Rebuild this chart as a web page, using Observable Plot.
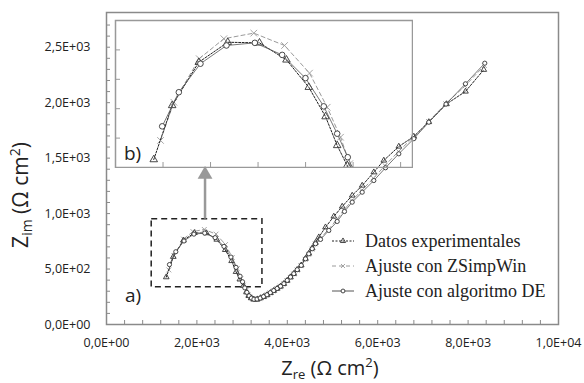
<!DOCTYPE html>
<html><head><meta charset="utf-8">
<script src="https://cdn.jsdelivr.net/npm/d3@7"></script>
<script src="https://cdn.jsdelivr.net/npm/@observablehq/plot@0.6"></script>
<style>
body{margin:0;background:#fff;}
#chart{position:relative;width:584px;height:383px;}
#inset{position:absolute;left:114px;top:19px;}
</style></head><body><div id="chart"><div id="inset"></div></div>
<script>
// ---- data ----
const xTicks = [0, 2000, 4000, 6000, 8000, 10000];
const xTickLabels = ["0,0E+00", "2,0E+03", "4,0E+03", "6,0E+03", "8,0E+03", "1,0E+04"];
const yTicks = [0, 500, 1000, 1500, 2000, 2500];
const yTickLabels = ["0,0E+00", "5,0E+02", "1,0E+03", "1,5E+03", "2,0E+03", "2,5E+03"];
const seriesNames = ["Datos experimentales", "Ajuste con ZSimpWin", "Ajuste con algoritmo DE"];

const expX = [1322,1477,1701,1945,2212,2439,2627,2768,2866,2950,3030,3097,3148,3201,3259,3334,3407,3480,3555,3628,3701,3777,3850,3923,3998,4071,4144,4219,4308,4403,4476,4551,4624,4697,4845,5029,5215,5436,5657,5914,6135,6467,6799,7131,7522,7942,8347];
const expY = [427,611,758,826,824,766,673,573,475,407,350,291,258,238,226,226,238,250,266,285,305,324,343,367,396,427,458,494,534,594,640,688,738,787,877,974,1064,1163,1253,1373,1479,1605,1695,1826,1988,2101,2297];

const zsX = [1379,1491,1705,1912,2164,2423,2633,2782,2894,2972,3030,3080,3130,3185,3245,3315,3390,3465,3540,3615,3690,3765,3840,3915,3990,4065,4140,4215,4300,4395,4470,4545,4620,4725,4900,5085,5250,5430,5650,5905,6160,6460,6790,7125,7505,7930,8360];
const zsY = [492,622,770,838,857,815,721,605,503,413,355,305,270,245,231,228,236,250,266,284,304,323,343,366,395,425,456,491,530,588,633,679,727,775,852,940,1030,1118,1210,1318,1433,1560,1690,1830,1990,2150,2335];

const deX = [1393,1533,1715,1934,2173,2403,2599,2753,2866,2955,3010,3060,3105,3155,3207,3262,3330,3400,3475,3550,3625,3700,3775,3850,3925,3998,4071,4144,4219,4308,4403,4476,4551,4624,4735,4918,5104,5265,5436,5657,5914,6173,6467,6799,7131,7511,7942,8369];
const deY = [540,656,753,815,824,783,704,608,515,435,385,330,290,258,238,228,229,238,252,268,287,306,325,345,368,398,428,458,494,533,592,637,683,728,767,848,929,1019,1103,1193,1298,1413,1539,1675,1824,1987,2170,2356];

const boxX = [1000, 3450];
const boxY = [335, 950];
const arrowX = [2180];
const arrowY = [950, 1330, 1352];

const insetXDomain = [1000, 3500];
const insetYDomain = [400, 900];

// ---- helpers ----
const rows = (xs, ys) => xs.map((x, i) => ({x, y: ys[i]}));
const exp = rows(expX, expY), zs = rows(zsX, zsY), de = rows(deX, deY);

function seriesMarks(r, clip) {
  return [
    Plot.line(zs, {x: "x", y: "y", stroke: "#9a9a9a", strokeWidth: 1, strokeDasharray: "4,3", clip}),
    Plot.dot(zs, {x: "x", y: "y", symbol: "times", r: r * 1.1, stroke: "#9a9a9a", strokeWidth: 0.9, clip}),
    Plot.line(exp, {x: "x", y: "y", stroke: "#222", strokeWidth: 1, strokeDasharray: "2,1.5", clip}),
    Plot.dot(exp, {x: "x", y: "y", symbol: "triangle", r: r, stroke: "#333", fill: "none", strokeWidth: 0.9, clip}),
    Plot.line(de, {x: "x", y: "y", stroke: "#555", strokeWidth: 0.8, clip}),
    Plot.dot(de, {x: "x", y: "y", symbol: "circle", r: r, stroke: "#333", fill: "white", strokeWidth: 0.9, clip})
  ];
}

const xMinor = d3.range(400, 10000, 400);
const yMinor = d3.range(100, 2800, 100);
const FONT = "'Open Sans', sans-serif";

const main = Plot.plot({
  width: 584, height: 383,
  marginLeft: 106, marginRight: 26, marginTop: 12, marginBottom: 59,
  x: {domain: [0, 10000], label: null},
  y: {domain: [0, 2813], label: null},
  style: {fontFamily: FONT, fontSize: "12.5px", color: "#222", background: "transparent"},
  marks: [
    Plot.axisX(xMinor, {tickSize: -4, tickFormat: () => "", stroke: "#8a8a8a", label: null}),
    Plot.axisY(yMinor, {tickSize: -4, tickFormat: () => "", stroke: "#8a8a8a", label: null}),
    Plot.text(xTicks, {x: d => d, y: 0, text: d => xTickLabels[xTicks.indexOf(d)], dy: 18, fontSize: 12.5, fontFamily: FONT, fill: "#222", textAnchor: "middle"}),
    Plot.text(yTicks, {x: 0, y: d => d, text: d => yTickLabels[yTicks.indexOf(d)], dx: -16, fontSize: 12.5, fontFamily: FONT, fill: "#222", textAnchor: "end"}),
    Plot.frame({stroke: "#8a8a8a", strokeWidth: 1.5}),
    Plot.rect([{x1: boxX[0], x2: boxX[1], y1: boxY[0], y2: boxY[1]}], {x1: "x1", x2: "x2", y1: "y1", y2: "y2", fill: "none", stroke: "#222", strokeWidth: 1.5, strokeDasharray: "6,4"}),
    Plot.ruleX(arrowX, {x: d => d, y1: arrowY[0], y2: arrowY[1], stroke: "#999", strokeWidth: 2.5}),
    Plot.dot(arrowX, {x: d => d, y: arrowY[2], symbol: "triangle", r: 5.5, fill: "#999", stroke: "none"}),
    ...seriesMarks(2.1, false)
  ]
});
document.getElementById("chart").prepend(main);

const svg = d3.select(main);

// axis titles
const xt = svg.append("text").attr("x", 330).attr("y", 375).attr("text-anchor", "middle")
  .attr("fill", "#222").style("font", "20px " + FONT);
xt.append("tspan").text("Z");
xt.append("tspan").attr("font-size", "13px").attr("dy", 4).text("re");
xt.append("tspan").attr("dy", -4).text(" (Ω cm");
xt.append("tspan").attr("font-size", "13px").attr("dy", -8).text("2");
xt.append("tspan").attr("dy", 8).text(")");

const yt = svg.append("text").attr("transform", "translate(28,195) rotate(-90)").attr("text-anchor", "middle")
  .attr("fill", "#222").style("font", "21px " + FONT);
yt.append("tspan").text("Z");
yt.append("tspan").attr("font-size", "14px").attr("dy", 4).text("im");
yt.append("tspan").attr("dy", -4).text(" (Ω cm");
yt.append("tspan").attr("font-size", "14px").attr("dy", -8).text("2");
yt.append("tspan").attr("dy", 8).text(")");

svg.append("text").attr("x", 125).attr("y", 302).attr("fill", "#222").attr("text-anchor", "start")
  .style("font", "19px " + FONT).text("a)");

// legend
const legendRowsY = [241, 266, 291];
const legStyles = [
  {stroke: "#222", dash: "2,1.5", sym: d3.symbolTriangle, mfill: "none", mstroke: "#333"},
  {stroke: "#9a9a9a", dash: "4,3", sym: d3.symbolTimes, mfill: "none", mstroke: "#9a9a9a"},
  {stroke: "#555", dash: null, sym: d3.symbolCircle, mfill: "white", mstroke: "#333"}
];
seriesNames.forEach((name, i) => {
  const y = legendRowsY[i], s = legStyles[i];
  svg.append("line").attr("x1", 332).attr("x2", 354).attr("y1", y).attr("y2", y)
    .attr("stroke", s.stroke).attr("stroke-width", 1).attr("stroke-dasharray", s.dash);
  svg.append("path").attr("d", d3.symbol(s.sym, 12)()).attr("transform", `translate(343,${y})`)
    .attr("fill", s.mfill).attr("stroke", s.mstroke).attr("stroke-width", 0.9);
  svg.append("text").attr("x", 365).attr("y", y).attr("dy", "0.33em").attr("fill", "#222")
    .attr("text-anchor", "start")
    .style("font", "18px 'Liberation Serif', serif").text(name);
});

// inset
const inset = Plot.plot({
  width: 299, height: 149,
  marginLeft: 1, marginRight: 1, marginTop: 1, marginBottom: 1,
  x: {domain: insetXDomain, label: null},
  y: {domain: insetYDomain, label: null},
  style: {background: "transparent", overflow: "hidden"},
  marks: [
    Plot.axisX(d3.range(1400, 3500, 400), {tickSize: -5, tickFormat: () => "", stroke: "#999", label: null}),
    Plot.axisY(d3.range(500, 900, 100), {tickSize: -5, tickFormat: () => "", stroke: "#999", label: null}),
    ...seriesMarks(2.8, true),
    Plot.frame({stroke: "#999", strokeWidth: 1.5})
  ]
});
document.getElementById("inset").append(inset);
d3.select(inset).append("text").attr("x", 10).attr("y", 141).attr("fill", "#222").attr("text-anchor", "start")
  .style("font", "19px " + FONT).text("b)");
</script>
</body></html>
